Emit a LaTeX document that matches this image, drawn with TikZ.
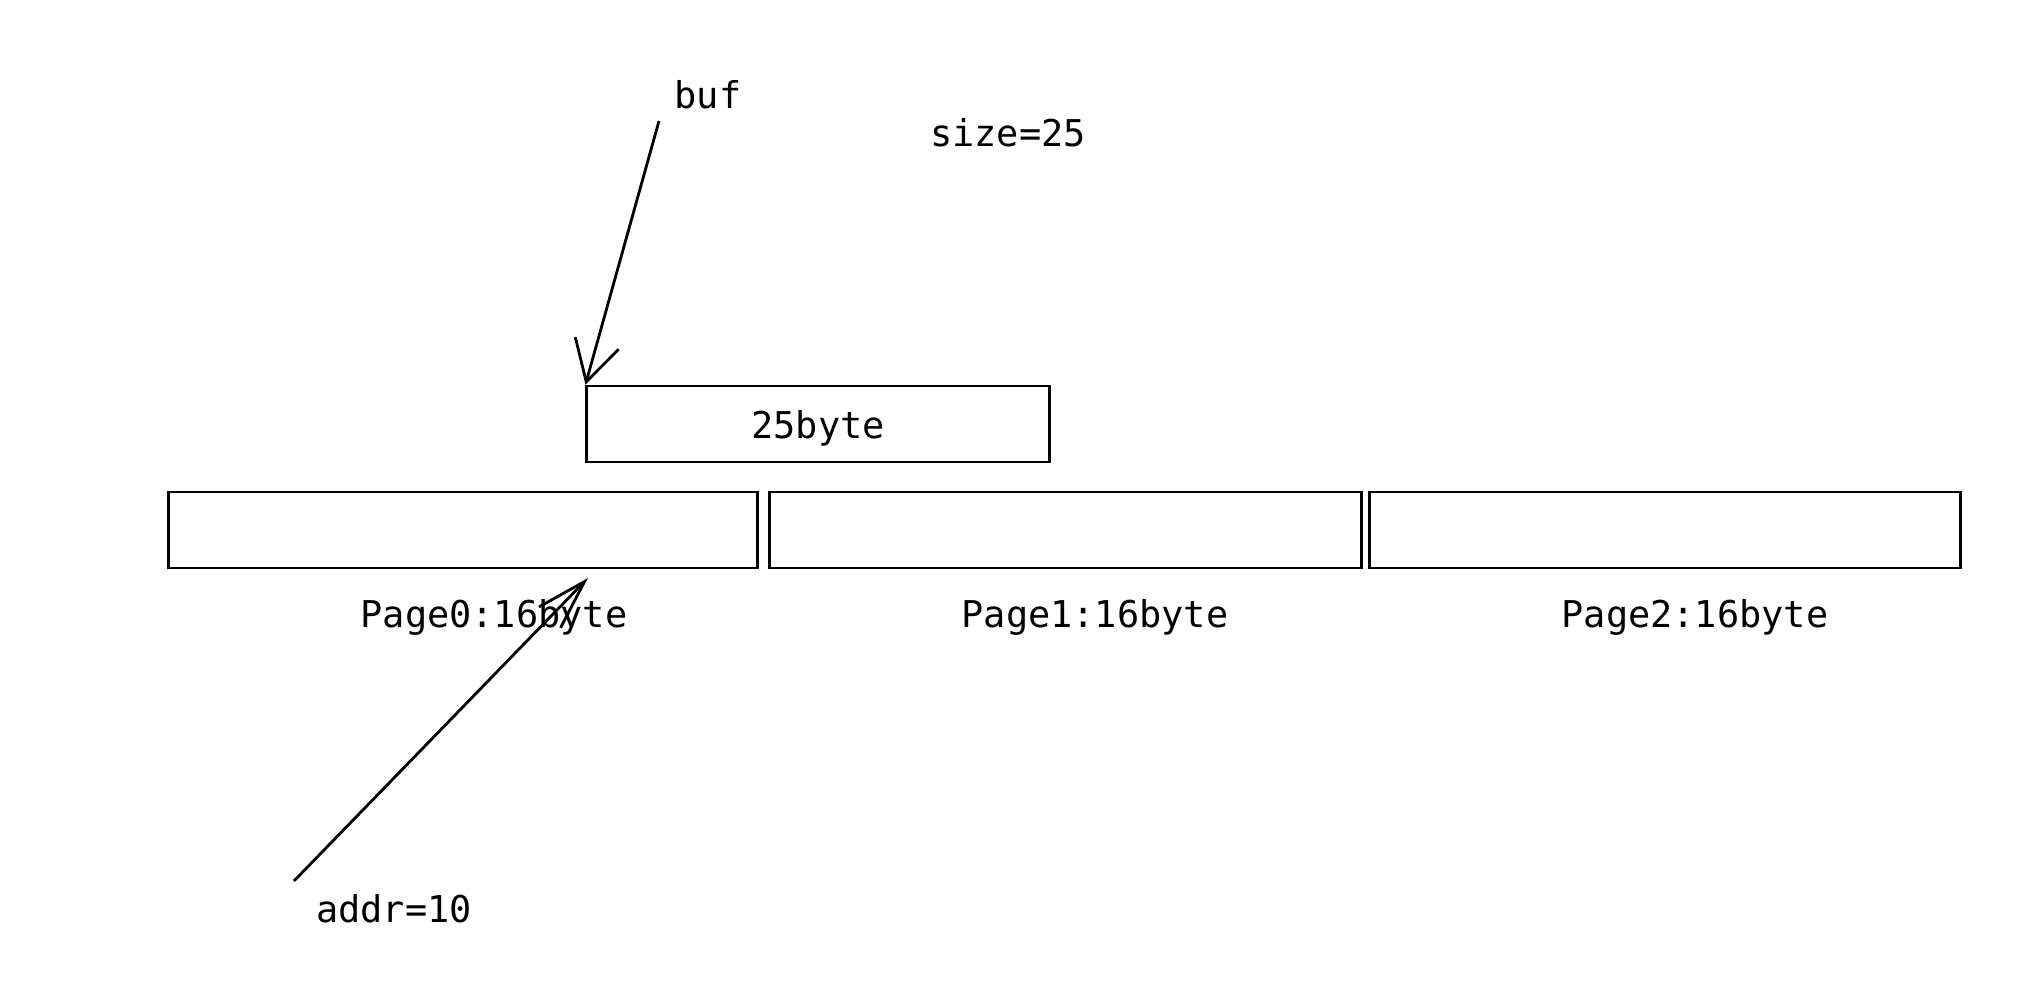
\documentclass[tikz,border=0pt]{standalone}
\usepackage{fontspec}
\setmonofont{DejaVu Sans Mono}
\usetikzlibrary{arrows.meta}
\usetikzlibrary{positioning}

\tikzset{
  membox/.style={draw, thick, minimum height=0.76cm, inner sep=0pt},
  memlabel/.style={font=\ttfamily\fontsize{10.5}{12}\selectfont, inner sep=1pt},
  ptr/.style={-{Straight Barb[length=4mm,width=4.5mm]}, thick}
}

\begin{document}
\begin{tikzpicture}[x=0.01cm,y=-0.01cm]
        \useasboundingbox[fill=white] (0,0) rectangle (2023,986);

        %------------------
        % ページ
        %------------------
        \node[membox, minimum width=5.88cm] (page0) at (463,530) {};
        \node[membox, minimum width=5.91cm] (page1) at (1065.5,530) {};
        \node[membox, minimum width=5.90cm] (page2) at (1665,530) {};

        \node[memlabel] (page0lbl) at (494,617) {Page0:16byte};
        \node[memlabel] (page1lbl) at (1095,617) {Page1:16byte};
        \node[memlabel] (page2lbl) at (1695,617) {Page2:16byte};

        %------------------
        % バッファ
        %------------------
        \node[membox, minimum width=4.62cm] (buffer) at (818,424) {};
        \node[memlabel] (bufferlbl) at (818,428) {25byte};

        % ラベル
        \node[memlabel] (buflbl) at (708,95) {buf};
        \node[memlabel] (sizelbl) at (1008,133) {size=25};
        \node[memlabel] (addrlbl) at (394,909) {addr=10};

        %------------------
        % 矢印
        %------------------
        \coordinate (buftail) at (659,121);
        \coordinate (addrtail) at (294,881);
        \coordinate (addrtip) at (588,578);

        \draw[ptr] (buftail) -- (buffer.north west);
        \draw[ptr, -{Straight Barb[length=5mm,width=3mm]}] (addrtail) -- (addrtip);
      \end{tikzpicture}
\end{document}
